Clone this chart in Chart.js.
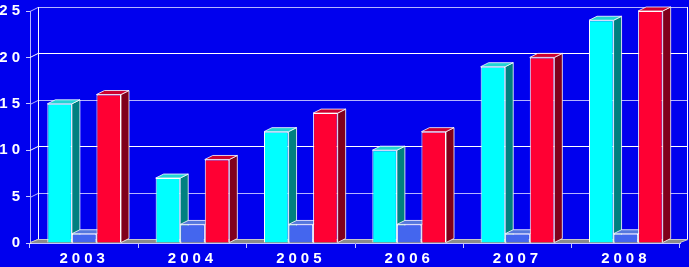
<!DOCTYPE html>
<html>
<head>
<meta charset="utf-8">
<script src="https://cdn.jsdelivr.net/npm/chart.js@4.4.1/dist/chart.umd.min.js"></script>
<style>
  html, body { margin: 0; padding: 0; background: #0000ee; }
  canvas { display: block; }
</style>
</head>
<body>
<canvas id="chart" width="689" height="267"></canvas>
<script>
const years = ["2003", "2004", "2005", "2006", "2007", "2008"];
const cyanValues = [15, 7, 12, 10, 19, 24];
const blueValues = [1, 2, 2, 2, 1, 1];
const redValues = [16, 9, 14, 12, 20, 25];
const yTicks = [0, 5, 10, 15, 20, 25];

// front, side, top colours for each series
const faceColors = [
    { front: "#00ffff", side: "#008080", top: "#22d4d4" },
    { front: "#4466ee", side: "#22338a", top: "#5577dd" },
    { front: "#ff0033", side: "#80001c", top: "#cc0030" },
];

const DX = 8;
const DY = -4;

function poly(ctx, pts, fill, stroke) {
    ctx.beginPath();
    ctx.moveTo(pts[0][0], pts[0][1]);
    for (let i = 1; i < pts.length; i++) ctx.lineTo(pts[i][0], pts[i][1]);
    ctx.closePath();
    ctx.fillStyle = fill;
    ctx.fill();
    if (stroke) {
        ctx.strokeStyle = stroke;
        ctx.lineWidth = 1;
        ctx.stroke();
    }
}

const spacing = {
    id: "spacing",
    beforeLayout(chart) { chart.ctx.letterSpacing = "4px"; },
    beforeDraw(chart) { chart.ctx.letterSpacing = "4px"; },
};

const depth3d = {
    id: "depth3d",
    beforeDatasetsDraw(chart) {
        const { ctx, chartArea, scales } = chart;
        const { left, right, top, bottom } = chartArea;
        const y = scales.y;
        ctx.save();

        // back wall grid lines
        yTicks.forEach((v) => {
            const py = Math.round(y.getPixelForValue(v)) + 0.5;
            ctx.beginPath();
            ctx.moveTo(left, py);
            ctx.lineTo(left + DX, py + DY);
            ctx.lineTo(right + DX, py + DY);
            ctx.strokeStyle = v % 10 === 0 ? "#ffffff" : "#b4b4ff";
            ctx.lineWidth = 1;
            ctx.stroke();
        });

        // back wall edges
        ctx.beginPath();
        ctx.moveTo(left + DX + 0.5, top + DY);
        ctx.lineTo(left + DX + 0.5, bottom + DY);
        ctx.moveTo(right + DX - 0.5, top + DY);
        ctx.lineTo(right + DX - 0.5, bottom + DY);
        ctx.strokeStyle = "#ffffff";
        ctx.stroke();

        // floor
        poly(ctx, [[left, bottom], [right, bottom], [right + DX, bottom + DY], [left + DX, bottom + DY]], "#8c8c8c");
        ctx.beginPath();
        ctx.moveTo(left, bottom - 0.5);
        ctx.lineTo(left + DX, bottom + DY + 0.5);
        ctx.lineTo(right + DX, bottom + DY + 0.5);
        ctx.lineTo(right, bottom - 0.5);
        ctx.strokeStyle = "#c8c8c8";
        ctx.stroke();

        // side and top faces, left to right so the next front face covers them
        years.forEach((_, i) => {
            chart.data.datasets.forEach((ds, d) => {
                const el = chart.getDatasetMeta(d).data[i];
                const xl = el.x - el.width / 2;
                const xr = el.x + el.width / 2;
                const yt = el.y;
                const base = el.base;
                const c = faceColors[d];
                poly(ctx, [[xr, yt], [xr + DX, yt + DY], [xr + DX, base + DY], [xr, base]], c.side, "rgba(255,255,255,0.8)");
                poly(ctx, [[xl, yt], [xr, yt], [xr + DX, yt + DY], [xl + DX, yt + DY]], c.top, "rgba(255,255,255,0.8)");
            });
        });
        ctx.restore();
    },
};

new Chart(document.getElementById("chart"), {
    type: "bar",
    data: {
        labels: years,
        datasets: [
            { data: cyanValues, backgroundColor: faceColors[0].front },
            { data: blueValues, backgroundColor: faceColors[1].front },
            { data: redValues, backgroundColor: faceColors[2].front },
        ].map((ds) => ({
            ...ds,
            borderColor: "#ffffff",
            borderWidth: 1,
            borderSkipped: "start",
            categoryPercentage: 0.68,
            barPercentage: 1,
        })),
    },
    options: {
        responsive: false,
        animation: false,
        events: [],
        layout: { padding: { top: 7, right: 9, left: 0, bottom: 0 } },
        plugins: {
            legend: { display: false },
            tooltip: { enabled: false },
        },
        scales: {
            x: {
                afterFit: (s) => { s.height = 24; },
                grid: { drawOnChartArea: false, tickLength: 5, color: "#c8c8ff" },
                border: { color: "#c8c8ff" },
                ticks: {
                    color: "#ffffff",
                    padding: 2,
                    font: { family: "Liberation Sans", size: 15, weight: "bold" },
                },
            },
            y: {
                min: 0,
                max: 25,
                afterFit: (s) => { s.width = 30; },
                afterBuildTicks: (s) => { s.ticks = yTicks.map((v) => ({ value: v })); },
                grid: { drawOnChartArea: false, tickLength: 4, color: "#c8c8ff" },
                border: { color: "#b4b4ff" },
                ticks: {
                    color: "#ffffff",
                    padding: 2,
                    font: { family: "Liberation Sans", size: 15, weight: "bold" },
                },
            },
        },
    },
    plugins: [spacing, depth3d],
});
</script>
</body>
</html>
